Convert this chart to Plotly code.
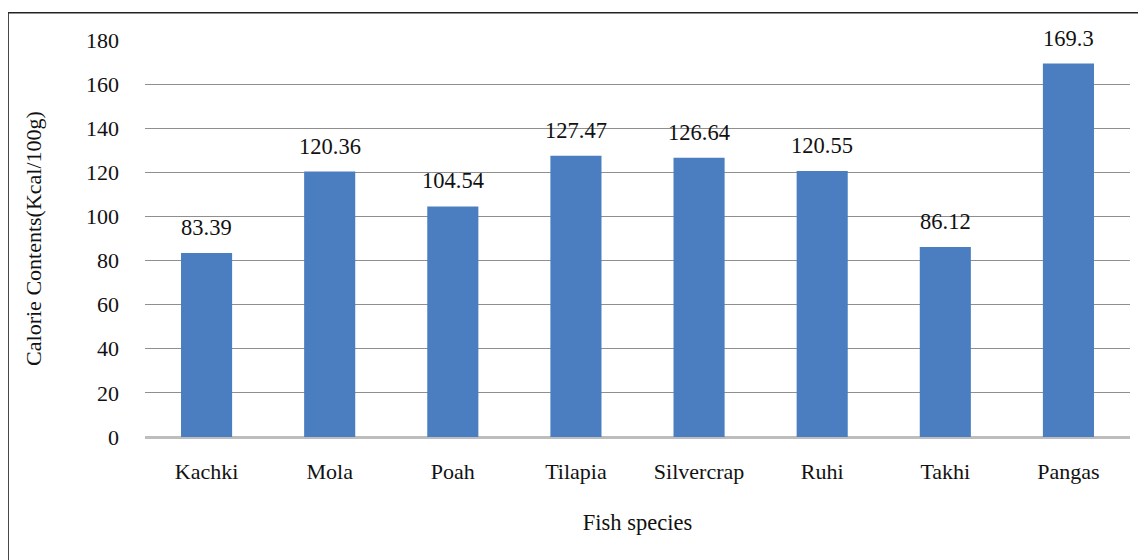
import plotly.graph_objects as go

species = ["Kachki", "Mola", "Poah", "Tilapia", "Silvercrap", "Ruhi", "Takhi", "Pangas"]
calories = [83.39, 120.36, 104.54, 127.47, 126.64, 120.55, 86.12, 169.3]
value_labels = ["83.39", "120.36", "104.54", "127.47", "126.64", "120.55", "86.12", "169.3"]
y_ticks = [0, 20, 40, 60, 80, 100, 120, 140, 160, 180]

FONT = "Liberation Serif"
fig = go.Figure()
fig.add_trace(go.Bar(x=species, y=calories, marker=dict(color="#4a7ec0", line=dict(width=0)),
                     hoverinfo="x+y"))

for s, v, t in zip(species, calories, value_labels):
    fig.add_annotation(x=s, y=v, text=t, showarrow=False, yanchor="bottom", yshift=11,
                       font=dict(family=FONT, size=22.5, color="#111111"))

fig.update_layout(
    width=1146, height=560,
    margin=dict(l=137, r=24, t=32, b=131),
    paper_bgcolor="white", plot_bgcolor="white",
    bargap=0.585, showlegend=False,
    font=dict(family=FONT, size=22, color="#111111"),
    xaxis=dict(title=dict(text="Fish species", standoff=31, font=dict(family=FONT, size=22.5)),
               showgrid=False, showline=False, ticks="", ticklabelstandoff=19,
               tickfont=dict(family=FONT, size=22)),
    yaxis=dict(title=dict(text="Calorie Contents(Kcal/100g)", standoff=38, font=dict(family=FONT, size=22)),
               range=[0, 180], tickvals=y_ticks, showgrid=True, gridcolor="#8f8f8f", gridwidth=1,
               zeroline=True, zerolinecolor="#bdbdbd", zerolinewidth=3,
               showline=False, ticks="", ticklabelstandoff=25,
               tickfont=dict(family=FONT, size=22)),
    shapes=[
        dict(type="line", xref="paper", yref="paper", x0=-0.139, x1=1.05, y0=1.0688, y1=1.0688,
             line=dict(color="#222222", width=1.5)),
        dict(type="line", xref="paper", yref="paper", x0=-0.139, x1=-0.139, y0=-0.4, y1=1.0688,
             line=dict(color="#222222", width=1.5)),
    ],
)

fig.write_html("out.html")
